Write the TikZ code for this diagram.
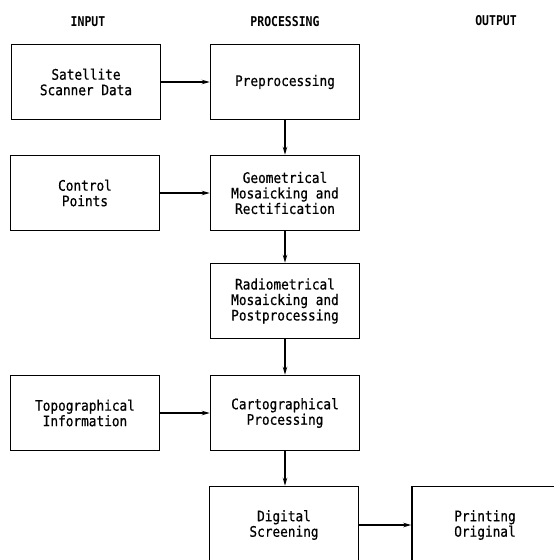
\documentclass[tikz,border=0pt]{standalone}
\usepackage{fontspec}
\usetikzlibrary{arrows.meta}
\newfontfamily\boxfont[FakeStretch=0.88,FakeBold=0.6]{DejaVu Sans Mono}
\newfontfamily\headfont[FakeStretch=0.85]{DejaVu Sans Mono Bold}
\begin{document}
\begin{tikzpicture}[x=1pt,y=-1pt,
  blk/.style={draw,line width=1.5pt,minimum width=149pt,minimum height=75pt,inner sep=0pt,
    align=center,font=\boxfont\fontsize{14.5}{15.5}\selectfont},
  head/.style={font=\headfont\fontsize{13.5}{14}\selectfont},
  arr/.style={line width=1.5pt,-{Stealth[length=8pt,width=4.5pt]}}]
\useasboundingbox (0,0) rectangle (554,560);
\clip (0,0) rectangle (554,560);
\node[head] (hin) at (88,22) {INPUT};
\node[head] (hpr) at (285,22) {PROCESSING};
\node[head] (hout) at (496,21) {OUTPUT};
\node[blk] (sat) at (86,82) {Satellite\\Scanner Data};
\node[blk] (pre) at (285,82) {Preprocessing};
\node[blk] (ctrl) at (85,193) {Control\\Points};
\node[blk] (geo) at (285,193) {Geometrical\\Mosaicking and\\Rectification};
\node[blk] (rad) at (285,301) {Radiometrical\\Mosaicking and\\Postprocessing};
\node[blk] (topo) at (85,413) {Topographical\\Information};
\node[blk] (carto) at (285,413) {Cartographical\\Processing};
\node[blk,minimum height=77pt] (dig) at (284,525) {Digital\\Screening};
\node[blk,minimum height=77pt,minimum width=146pt] (prt) at (485,525) {Printing\\Original};
\draw[arr] (sat) -- (pre);
\draw[arr] (ctrl) -- (geo);
\draw[arr] (topo) -- (carto);
\draw[arr] (pre) -- (geo);
\draw[arr] (geo) -- (rad);
\draw[arr] (rad) -- (carto);
\draw[arr] (carto.south) -- (carto.south |- dig.north);
\draw[arr] (dig.east |- prt.west) -- (prt.west);
\end{tikzpicture}
\end{document}
